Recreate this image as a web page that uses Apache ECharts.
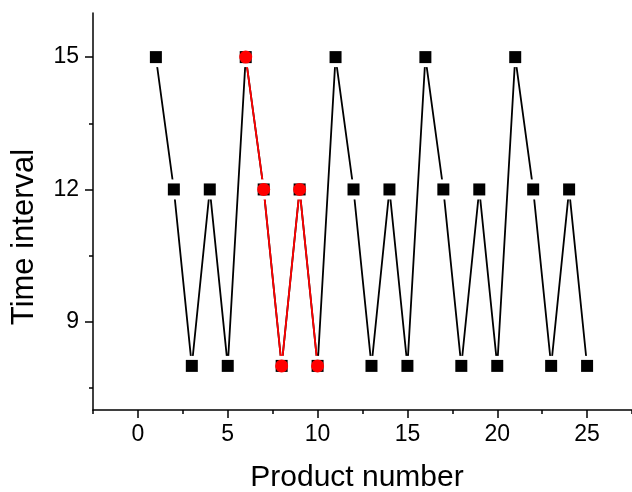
<!DOCTYPE html>
<html>
<head>
<meta charset="utf-8">
<script src="https://cdn.jsdelivr.net/npm/echarts@6/dist/echarts.min.js"></script>
<style>html,body{margin:0;padding:0;background:#fff}#c{width:632px;height:492px}</style>
</head>
<body>
<div id="c"></div>
<script>
var productNumbers = [1,2,3,4,5,6,7,8,9,10,11,12,13,14,15,16,17,18,19,20,21,22,23,24,25];
var timeIntervals = [15,12,8,12,8,15,12,8,12,8,15,12,8,12,8,15,12,8,12,8,15,12,8,12,8];
var highlighted = [6,7,8,9,10];
var xMajorTicks = [0,5,10,15,20,25];
var xMinorTicks = [-2.5,2.5,7.5,12.5,17.5,22.5,27.5];
var yMajorTicks = [9,12,15];
var yMinorTicks = [7.5,10.5,13.5];
var xTitle = 'Product number';
var yTitle = 'Time interval';

var allPts = productNumbers.map(function(x,i){return [x,timeIntervals[i]];});
var redPts = allPts.filter(function(p){return highlighted.indexOf(p[0])>=0;});

var FONT = 'Liberation Sans, Arial, sans-serif';
var axisLine = {show:true, onZero:false, lineStyle:{color:'#000', width:1.5}};
var chart = echarts.init(document.getElementById('c'), null, {renderer:'canvas'});
chart.setOption({
  animation:false,
  backgroundColor:'#fff',
  grid:{left:93, top:13, right:0, bottom:82, containLabel:false},
  graphic:[
    {type:'text', x:357, y:478, silent:true,
     style:{text:xTitle, fill:'#000', font:'30px ' + FONT, align:'center', verticalAlign:'middle'}},
    {type:'text', x:24, y:237, rotation:Math.PI/2, silent:true,
     style:{text:yTitle, fill:'#000', font:'31px ' + FONT, align:'center', verticalAlign:'middle'}}
  ],
  xAxis:[{
    type:'value', min:-2.5, max:27.5, position:'bottom',
    axisLine:axisLine,
    axisTick:{show:true, inside:false, length:8, lineStyle:{color:'#000', width:1.5}, customValues:xMajorTicks},
    axisLabel:{show:true, color:'#000', fontSize:23, fontFamily:FONT, margin:13, customValues:xMajorTicks},
    splitLine:{show:false}
  },{
    type:'value', min:-2.5, max:27.5, position:'bottom',
    axisLine:{show:false, onZero:false},
    axisTick:{show:true, inside:false, length:4, lineStyle:{color:'#000', width:1.5}, customValues:xMinorTicks},
    axisLabel:{show:false},
    splitLine:{show:false}
  }],
  yAxis:[{
    type:'value', min:7, max:16, position:'left',
    axisLine:axisLine,
    axisTick:{show:true, inside:false, length:8, lineStyle:{color:'#000', width:1.5}, customValues:yMajorTicks},
    axisLabel:{show:true, color:'#000', fontSize:23, fontFamily:FONT, margin:14, customValues:yMajorTicks},
    splitLine:{show:false}
  },{
    type:'value', min:7, max:16, position:'left',
    axisLine:{show:false, onZero:false},
    axisTick:{show:true, inside:false, length:4, lineStyle:{color:'#000', width:1.5}, customValues:yMinorTicks},
    axisLabel:{show:false},
    splitLine:{show:false}
  }],
  series:[
    {type:'line', data:allPts, showSymbol:false, symbol:'none', lineStyle:{color:'#000', width:1.8}, z:1, silent:true},
    {type:'line', data:redPts, showSymbol:false, symbol:'none', lineStyle:{color:'#ff0000', width:1.8}, z:2, silent:true},
    {type:'scatter', data:allPts, symbol:'rect', symbolSize:20, itemStyle:{color:'#fff', opacity:1}, z:3, silent:true},
    {type:'scatter', data:allPts, symbol:'rect', symbolSize:12, itemStyle:{color:'#000', opacity:1}, z:4, silent:true},
    {type:'scatter', data:redPts, symbol:'circle', symbolSize:13, itemStyle:{color:'#ff0000', opacity:1}, z:5, silent:true}
  ]
});
</script>
</body>
</html>
